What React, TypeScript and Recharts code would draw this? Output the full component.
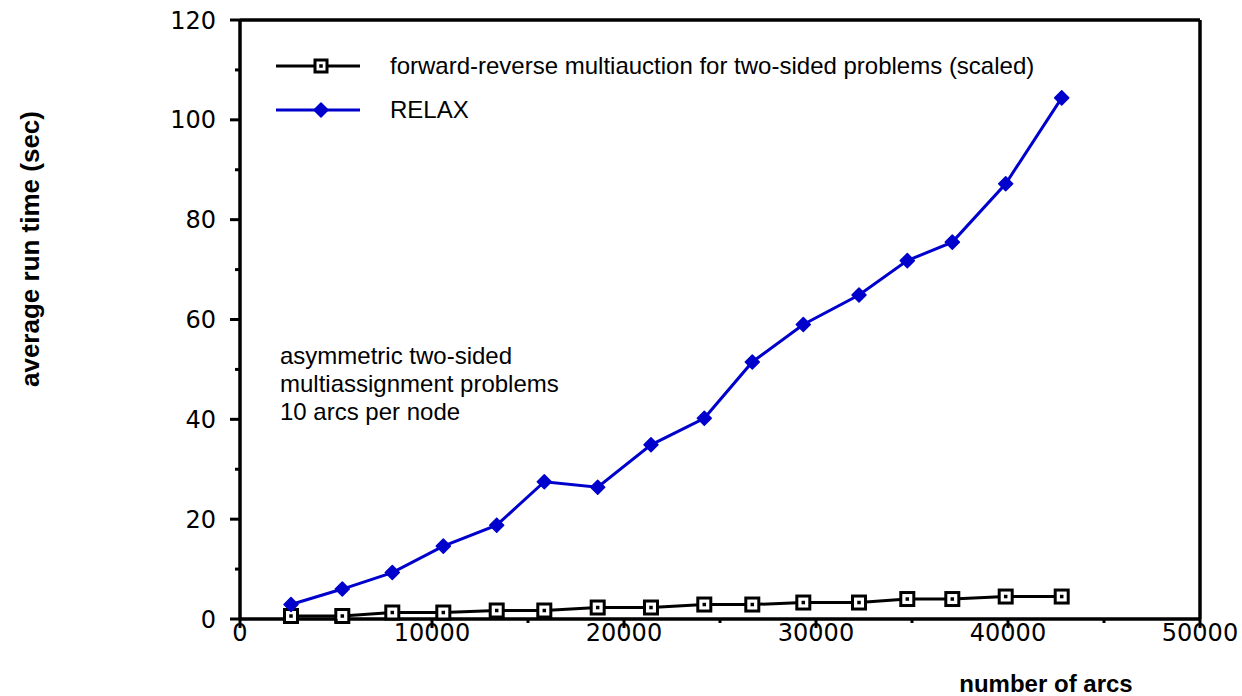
import React from 'react';
import { LineChart, Line, XAxis, YAxis, Legend } from 'recharts';

const arcs = [2656, 5328, 7932, 10589, 13370, 15849, 18630, 21406, 24182, 26682, 29339, 32240, 34755, 37099, 39880, 42797];
const multiauction = [0.6, 0.6, 1.3, 1.3, 1.7, 1.7, 2.3, 2.3, 2.9, 2.9, 3.3, 3.3, 4.0, 4.0, 4.5, 4.5];
const relax = [2.9, 6.0, 9.3, 14.6, 18.8, 27.5, 26.4, 34.9, 40.2, 51.5, 59.0, 64.9, 71.8, 75.5, 87.2, 104.4];

const xTicks = [0, 5000, 10000, 15000, 20000, 25000, 30000, 35000, 40000, 45000, 50000];
const yTicks = [0, 10, 20, 30, 40, 50, 60, 70, 80, 90, 100, 110, 120];

const seriesNames = ['forward-reverse multiauction for two-sided problems (scaled)', 'RELAX'];
const noteLines = ['asymmetric two-sided', 'multiassignment problems', '10 arcs per node'];
const xTitle = 'number of arcs';
const yTitle = 'average run time (sec)';

const BLUE = '#0000cc';
const tickFont = '"DejaVu Sans", sans-serif';
const textFont = '"Liberation Sans", Arial, sans-serif';

const data = arcs.map((a, i) => ({ arcs: a, multi: multiauction[i], relax: relax[i] }));

const SquareDot = (props: any) => {
  const { cx, cy, index } = props;
  if (cx == null || cy == null) return <g key={index} />;
  return (
    <g key={`sq-${index}`}>
      <rect x={cx - 6.5} y={cy - 6.5} width={13} height={13} fill="#fff" stroke="#000" strokeWidth={3} />
      <rect x={cx - 1.75} y={cy - 1.75} width={3.5} height={3.5} fill="#000" />
    </g>
  );
};

const DiamondDot = (props: any) => {
  const { cx, cy, index } = props;
  if (cx == null || cy == null) return <g key={index} />;
  const r = 7;
  return (
    <polygon
      key={`dm-${index}`}
      points={`${cx},${cy - r} ${cx + r},${cy} ${cx},${cy + r} ${cx - r},${cy}`}
      fill={BLUE}
      stroke={BLUE}
      strokeWidth={1.5}
      strokeLinejoin="round"
    />
  );
};

const XTick = (props: any) => {
  const { x, y, payload } = props;
  const major = payload.value % 10000 === 0;
  return (
    <g>
      <line x1={x} x2={x} y1={y} y2={y + (major ? 9 : 4)} stroke="#000" strokeWidth={3} />
      {major && (
        <text x={x} y={y + 22} textAnchor="middle" fontFamily={tickFont} fontSize={24} fill="#000">
          {payload.value}
        </text>
      )}
    </g>
  );
};

const YTick = (props: any) => {
  const { x, y, payload } = props;
  const major = payload.value % 20 === 0;
  return (
    <g>
      <line x1={x - (major ? 10 : 5)} x2={x} y1={y} y2={y} stroke="#000" strokeWidth={3} />
      {major && (
        <text x={x - 24} y={y + 8.5} textAnchor="end" fontFamily={tickFont} fontSize={24} fill="#000">
          {payload.value}
        </text>
      )}
    </g>
  );
};

const LegendContent = () => (
  <div style={{ fontFamily: textFont, fontSize: 24, color: '#000' }}>
    {seriesNames.map((name, i) => (
      <div key={name} style={{ display: 'flex', alignItems: 'center', height: 44 }}>
        <svg width={84} height={20} style={{ display: 'block' }}>
          <line x1={0} x2={84} y1={10} y2={10} stroke={i === 0 ? '#000' : BLUE} strokeWidth={3} />
          {i === 0 ? (
            <g>
              <rect x={39} y={4} width={12} height={12} fill="#fff" stroke="#000" strokeWidth={3} />
              <rect x={43.25} y={8.25} width={3.5} height={3.5} fill="#000" />
            </g>
          ) : (
            <polygon points="45,3 52,10 45,17 38,10" fill={BLUE} stroke={BLUE} strokeWidth={1.5} strokeLinejoin="round" />
          )}
        </svg>
        <span style={{ marginLeft: 30, lineHeight: '24px', whiteSpace: 'nowrap' }}>{name}</span>
      </div>
    ))}
  </div>
);

export default function App() {
  return (
    <div style={{ position: 'relative', width: 1242, height: 696, overflow: 'hidden' }}>
      <style>{`html, body { margin: 0; padding: 0; }`}</style>
      <LineChart width={1242} height={696} data={data} margin={{ top: 19, right: 41, bottom: 76, left: 239 }}>
        <XAxis
          dataKey="arcs"
          type="number"
          domain={[0, 50000]}
          ticks={xTicks}
          interval={0}
          height={1}
          tickSize={0}
          tickMargin={0}
          tickLine={false}
          tick={(p: any) => <XTick {...p} />}
          axisLine={{ stroke: '#000', strokeWidth: 3.5 }}
        />
        <XAxis
          xAxisId="top"
          orientation="top"
          type="number"
          domain={[0, 50000]}
          height={1}
          tick={false}
          tickLine={false}
          axisLine={{ stroke: '#000', strokeWidth: 3.5 }}
        />
        <YAxis
          type="number"
          domain={[0, 120]}
          ticks={yTicks}
          interval={0}
          width={1}
          tickSize={0}
          tickMargin={0}
          tickLine={false}
          tick={(p: any) => <YTick {...p} />}
          axisLine={{ stroke: '#000', strokeWidth: 3.5 }}
        />
        <YAxis
          yAxisId="right"
          orientation="right"
          type="number"
          domain={[0, 120]}
          width={1}
          tick={false}
          tickLine={false}
          axisLine={{ stroke: '#000', strokeWidth: 3.5 }}
        />
        <Legend
          layout="horizontal"
          verticalAlign="middle"
          align="center"
          content={() => <LegendContent />}
          wrapperStyle={{ left: 276, top: 44, width: 'auto', height: 'auto' }}
        />
        <Line
          dataKey="multi"
          name={seriesNames[0]}
          stroke="#000"
          strokeWidth={3}
          dot={SquareDot}
          activeDot={false}
          isAnimationActive={false}
        />
        <Line
          dataKey="relax"
          name={seriesNames[1]}
          stroke={BLUE}
          strokeWidth={3}
          dot={DiamondDot}
          activeDot={false}
          isAnimationActive={false}
        />
      </LineChart>
      <div
        style={{
          position: 'absolute',
          left: 280,
          top: 342,
          fontFamily: textFont,
          fontSize: 24,
          lineHeight: '28px',
          color: '#000',
          whiteSpace: 'nowrap',
        }}
      >
        {noteLines.map((l) => (
          <div key={l}>{l}</div>
        ))}
      </div>
      <div
        style={{
          position: 'absolute',
          left: 30 - 150,
          top: 249 - 15,
          width: 300,
          height: 30,
          lineHeight: '30px',
          textAlign: 'center',
          transform: 'rotate(-90deg)',
          fontFamily: textFont,
          fontWeight: 'bold',
          fontSize: 26,
          color: '#000',
          whiteSpace: 'nowrap',
        }}
      >
        {yTitle}
      </div>
      <div
        style={{
          position: 'absolute',
          left: 1046 - 150,
          top: 672,
          width: 300,
          height: 24,
          lineHeight: '24px',
          textAlign: 'center',
          fontFamily: textFont,
          fontWeight: 'bold',
          fontSize: 24,
          color: '#000',
          whiteSpace: 'nowrap',
        }}
      >
        {xTitle}
      </div>
    </div>
  );
}
